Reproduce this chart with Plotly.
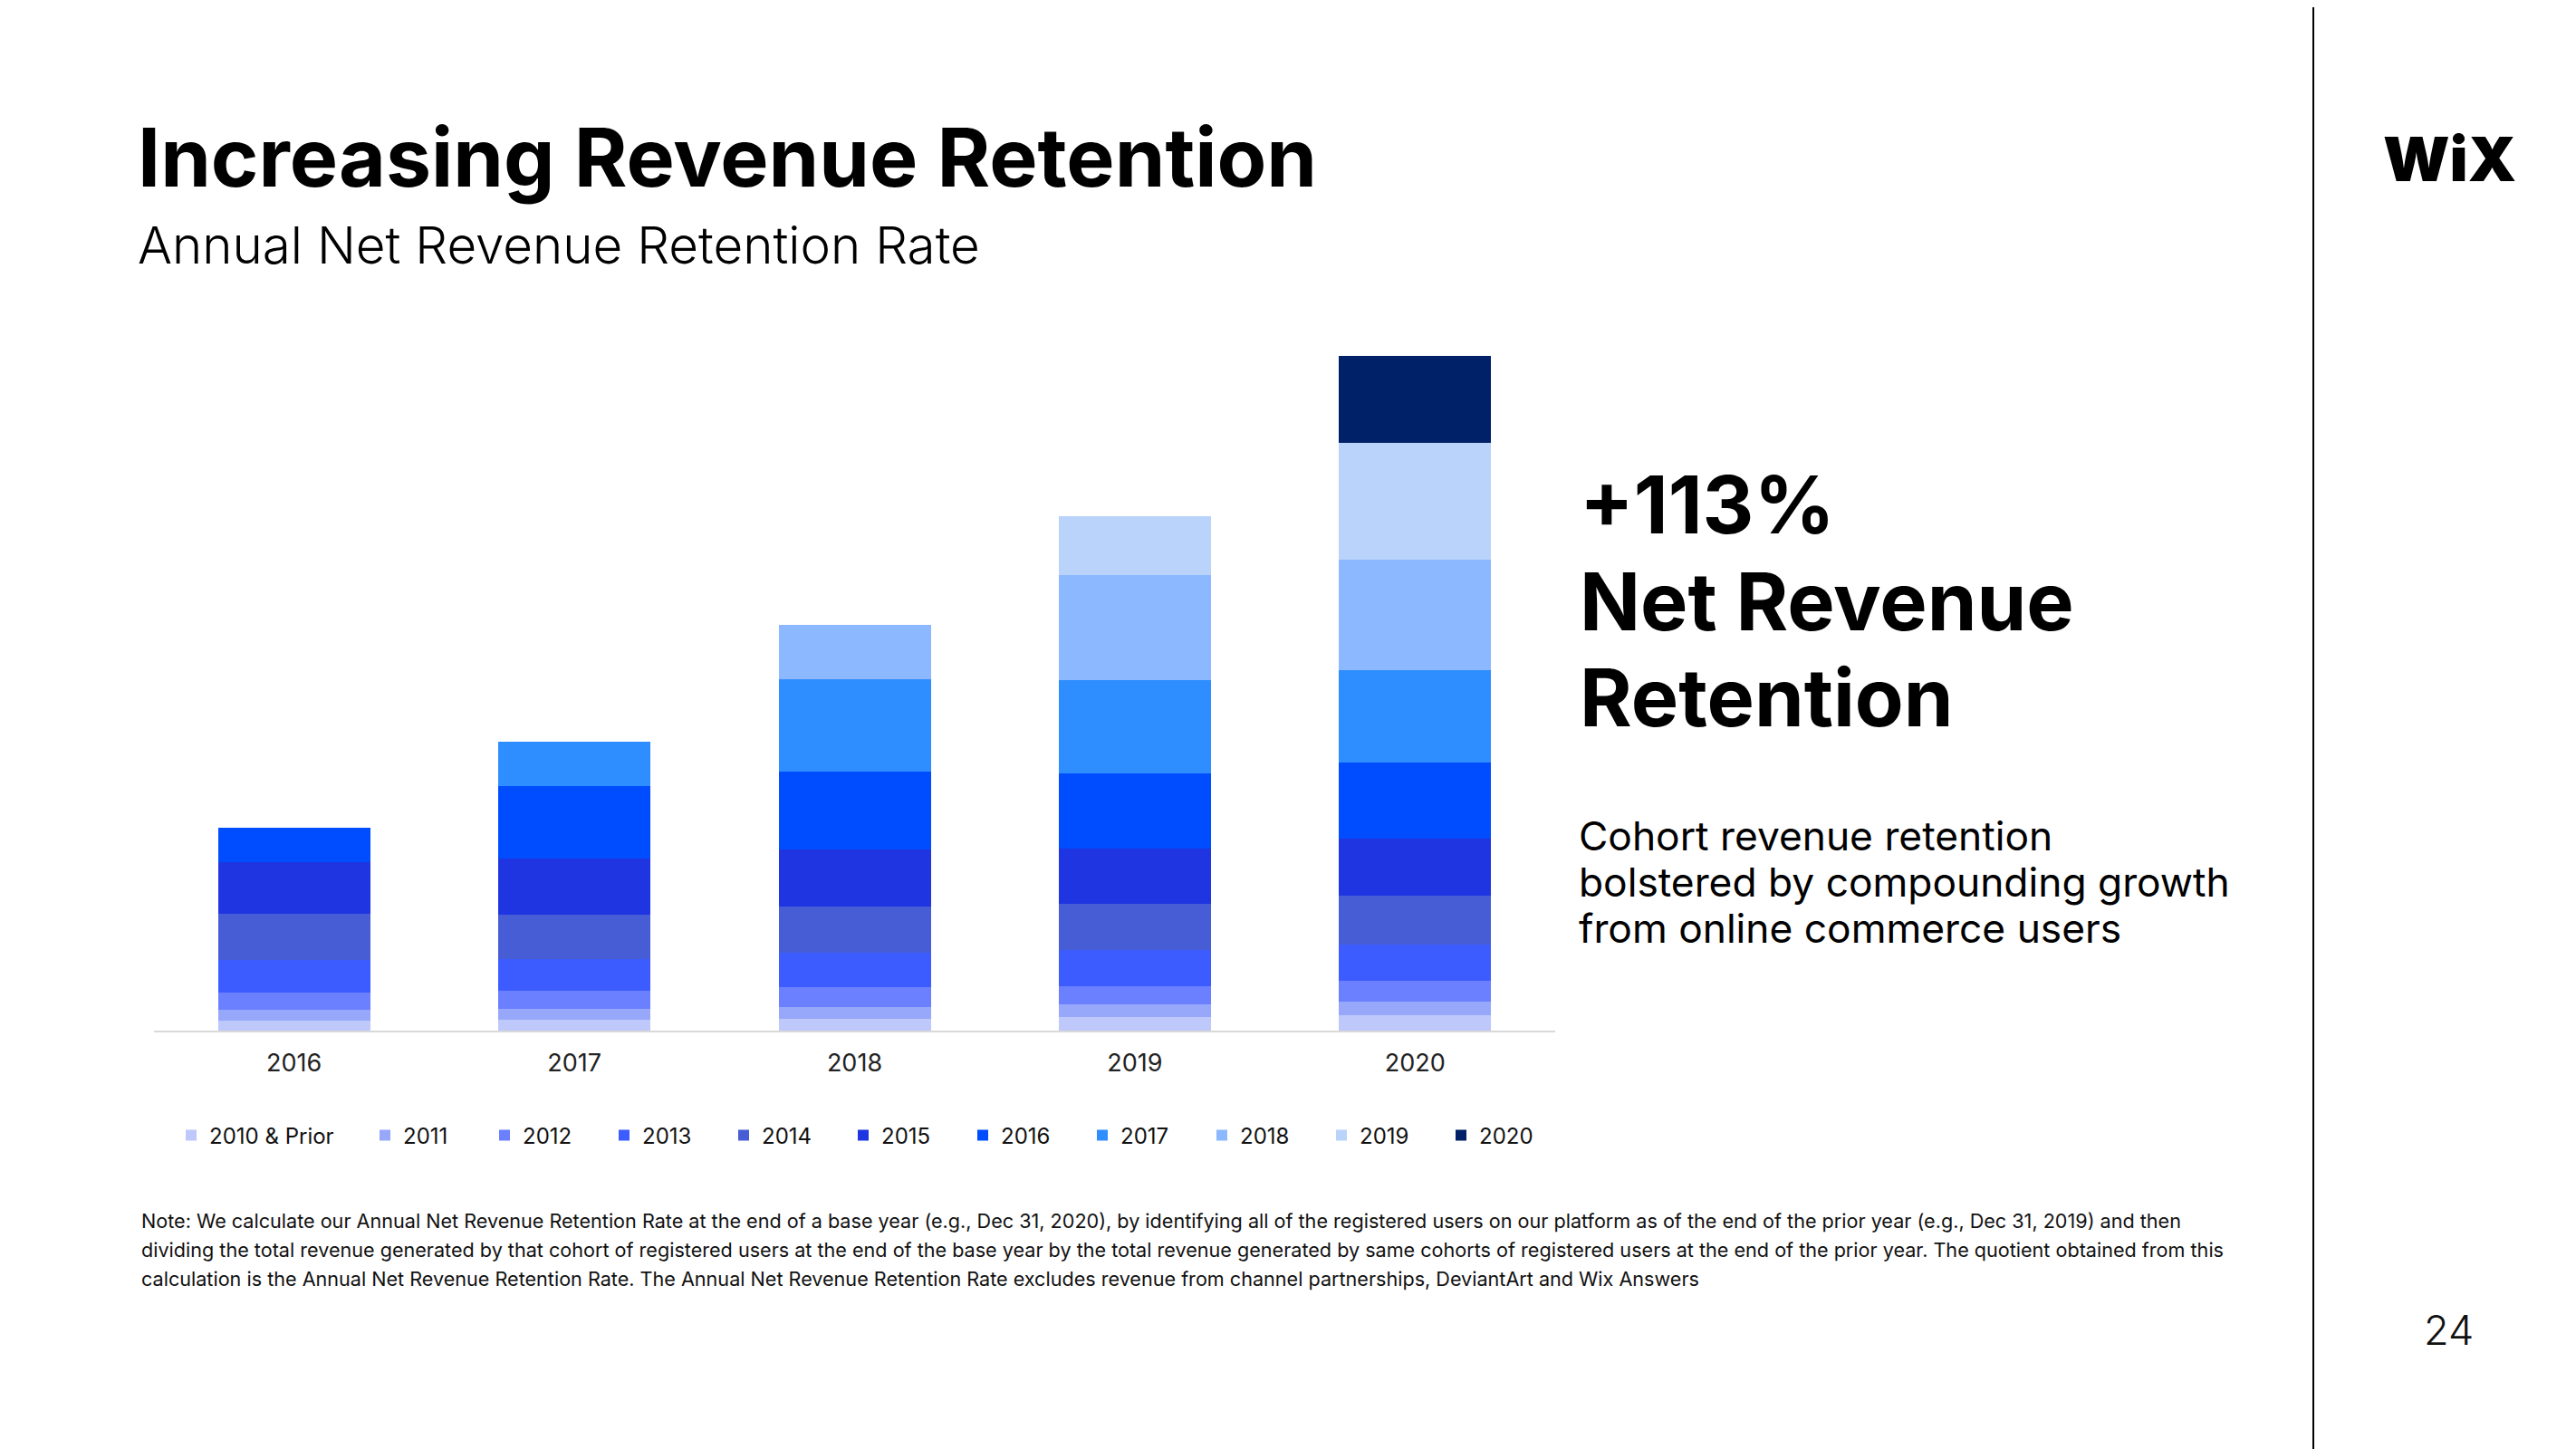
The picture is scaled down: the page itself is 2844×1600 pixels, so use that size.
import plotly.graph_objects as go

# ---------------- data ----------------
years = ["2016", "2017", "2018", "2019", "2020"]
cohorts = ["2010 & Prior", "2011", "2012", "2013", "2014", "2015",
           "2016", "2017", "2018", "2019", "2020"]

# relative cohort revenue contribution per year (arbitrary units)
c2010 = [11.0, 12.3, 13.3, 15.3, 16.9]
c2011 = [12.3, 12.0, 13.0, 13.3, 14.8]
c2012 = [19.0, 20.0, 22.0, 20.9, 22.9]
c2013 = [36.0, 35.0, 37.3, 39.9, 40.4]
c2014 = [50.7, 49.0, 51.7, 51.0, 54.1]
c2015 = [57.3, 61.7, 62.3, 60.8, 63.4]
c2016 = [37.7, 80.3, 86.7, 82.8, 83.7]
c2017 = [None, 48.7, 102.0, 102.6, 101.7]
c2018 = [None, None, 59.3, 116.5, 122.5]
c2019 = [None, None, None, 64.8, 128.2]
c2020 = [None, None, None, None, 96.1]

series = [c2010, c2011, c2012, c2013, c2014, c2015,
          c2016, c2017, c2018, c2019, c2020]

colors = ["#BEC8FA", "#97A8FA", "#6A80FE", "#3D5CFF", "#475DD6", "#1F35E1",
          "#004CFF", "#2F8EFF", "#8CB8FF", "#BAD3FA", "#002068"]

title = "Increasing Revenue Retention"
subtitle = "Annual Net Revenue Retention Rate"
headline = ["+113%", "Net Revenue", "Retention"]
body = ["Cohort revenue retention",
        "bolstered by compounding growth",
        "from online commerce users"]
note = [
    "Note: We calculate our Annual Net Revenue Retention Rate at the end of a base year (e.g., Dec 31, 2020), by identifying all of the registered users on our platform as of the end of the prior year (e.g., Dec 31, 2019) and then",
    "dividing the total revenue generated by that cohort of registered users at the end of the base year by the total revenue generated by same cohorts of registered users at the end of the prior year. The quotient obtained from this",
    "calculation is the Annual Net Revenue Retention Rate. The Annual Net Revenue Retention Rate excludes revenue from channel partnerships, DeviantArt and Wix Answers",
]
page_number = "24"

# ---------------- layout geometry ----------------
W, H = 2844, 1600
OFF = 8  # page offset of the figure inside the browser window
L, T = 170 - OFF, 338 - OFF
R, B = W - (1717 - OFF), H - (1138 - OFF)
PW, PH = W - L - R, H - T - B
FONT = "Inter"


def px(x):
    return (x - OFF - L) / PW


def py(y):
    return (H - B - (y - OFF)) / PH


fig = go.Figure()
for name, vals, col in zip(cohorts, series, colors):
    fig.add_trace(go.Bar(
        x=years, y=vals, name=name,
        marker=dict(color=col, line=dict(width=0)),
        legendwidth=169 if name == "2010 & Prior" else 87,
        hoverinfo="skip",
    ))

annotations = []
annotations.append(dict(text=title, x=px(150), y=py(173.5), xanchor="left", yanchor="middle",
                        font=dict(family=FONT, size=89.5, weight=700, color="#000000")))
annotations.append(dict(text=subtitle, x=px(150), y=py(270), xanchor="left", yanchor="middle",
                        font=dict(family=FONT, size=56.5, weight=300, color="#000000")))
for txt, yc in zip(headline, [557, 664, 769.6]):
    annotations.append(dict(text=txt, x=px(1742), y=py(yc), xanchor="left", yanchor="middle",
                            font=dict(family=FONT, size=88, weight=700, color="#000000")))
for txt, yc in zip(body, [922.6, 973.6, 1024.6]):
    annotations.append(dict(text=txt, x=px(1741), y=py(yc), xanchor="left", yanchor="middle",
                            font=dict(family=FONT, size=44.3, weight=400, color="#000000")))
for txt, yc in zip(note, [1348, 1380, 1412]):
    annotations.append(dict(text=txt, x=px(154), y=py(yc), xanchor="left", yanchor="middle",
                            font=dict(family=FONT, size=21.6, weight=400, color="#111111")))
annotations.append(dict(text="WiX", x=px(2704), y=py(174.7), xanchor="center", yanchor="middle",
                        font=dict(family=FONT, size=68, weight=900, color="#000000")))
annotations.append(dict(text=page_number, x=px(2703), y=py(1468), xanchor="center", yanchor="middle",
                        font=dict(family=FONT, size=45, weight=300, color="#111111")))
for a in annotations:
    a.update(xref="paper", yref="paper", showarrow=False)

fig.update_layout(
    width=W, height=H,
    margin=dict(l=L, r=R, t=T, b=B, autoexpand=False),
    paper_bgcolor="#FFFFFF", plot_bgcolor="#FFFFFF",
    barmode="stack", bargap=0.457,
    font=dict(family=FONT, color="#1A1A1A"),
    showlegend=True,
    legend=dict(orientation="h", x=px(191), y=py(1254), xanchor="left", yanchor="middle",
                traceorder="normal", font=dict(family=FONT, size=24, color="#111111"),
                bgcolor="rgba(0,0,0,0)", itemclick=False, itemdoubleclick=False),
    xaxis=dict(type="category", showline=True, linecolor="#D9D9D9", linewidth=2,
               showgrid=False, zeroline=False, ticks="outside", ticklen=11,
               tickcolor="rgba(0,0,0,0)", tickfont=dict(family=FONT, size=27, color="#222222"),
               fixedrange=True),
    yaxis=dict(range=[0, 800], visible=False, fixedrange=True),
    annotations=annotations,
    shapes=[dict(type="line", xref="paper", yref="paper", x0=px(2554), x1=px(2554),
                 y0=py(0), y1=py(1610), line=dict(color="#000000", width=2), layer="above")],
)

fig.write_html("out.html", config={"displayModeBar": False})
